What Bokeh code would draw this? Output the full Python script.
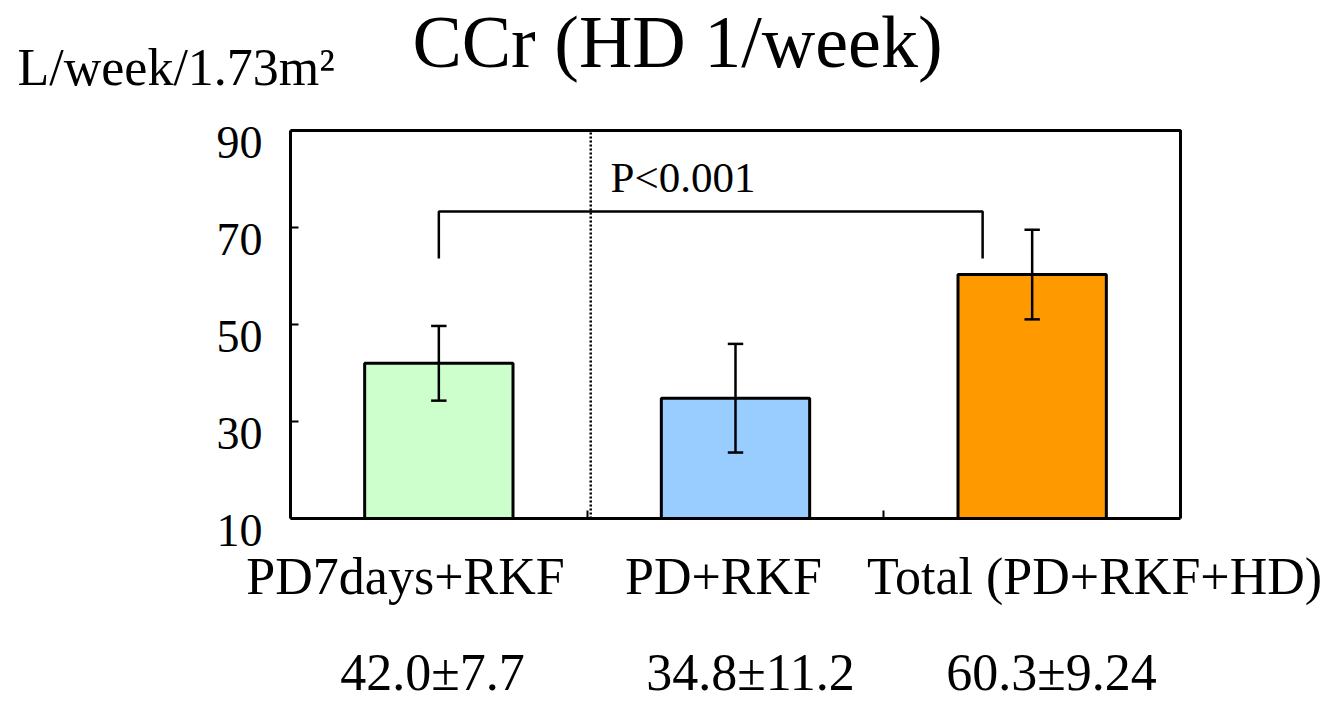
from bokeh.plotting import figure
from bokeh.models import ColumnDataSource, Label, FixedTicker, Range1d, LinearAxis
from bokeh.embed import file_html
from bokeh.resources import INLINE

# ---- data ----
categories = ["PD7days+RKF", "PD+RKF", "Total (PD+RKF+HD)"]
means = [42.0, 34.8, 60.3]
sds = [7.7, 11.2, 9.24]
value_texts = ["42.0\u00b17.7", "34.8\u00b111.2", "60.3\u00b19.24"]
colors = ["#CCFFCC", "#99CCFF", "#FF9900"]
y_ticks = [10, 30, 50, 70, 90]
p_text = "P<0.001"
title_text = "CCr (HD 1/week)"
unit_text = "L/week/1.73m\u00b2"

FONT = "Liberation Serif"

# ---- layout geometry (canvas pixels) ----
W, H = 1334, 704
BOX_L, BOX_R, BOX_T, BOX_B = 290, 1180, 130, 518
Y0, Y1 = y_ticks[0], y_ticks[-1]
NCAT = len(categories)
kx = (BOX_R - BOX_L) / NCAT          # px per x unit
ky = (BOX_B - BOX_T) / (Y1 - Y0)     # px per y unit


def sx(px):
    return (px - BOX_L) / kx


def sy(py):
    return Y0 + (BOX_B - py) / ky


xs = [i + 0.5 for i in range(NCAT)]
src = ColumnDataSource(dict(
    x=xs, top=means, color=colors,
    lo=[m - s for m, s in zip(means, sds)],
    hi=[m + s for m, s in zip(means, sds)],
    cl=[x - 0.026 for x in xs], cr=[x + 0.026 for x in xs],
))

p = figure(width=W, height=H, output_backend="svg", toolbar_location=None,
           x_range=Range1d(sx(0), sx(W)), y_range=Range1d(sy(H), sy(0)),
           x_axis_location=None, y_axis_location=None)
p.min_border = 0
p.min_border_left = p.min_border_right = p.min_border_top = p.min_border_bottom = 0
p.background_fill_color = "white"
p.border_fill_color = "white"
p.outline_line_color = None
p.xgrid.visible = False
p.ygrid.visible = False

# shifted range used only to place the y tick labels like the reference
shift = 12 / ky
p.extra_y_ranges = {"lbl": Range1d(sy(H) + shift, sy(0) + shift)}

# main y axis (line + inward ticks)
yax = LinearAxis(fixed_location=0, bounds=(Y0, Y1), ticker=FixedTicker(ticks=y_ticks),
                 axis_line_width=3, axis_line_color="black",
                 major_tick_in=8, major_tick_out=0, major_tick_line_width=2,
                 major_tick_line_color="black", minor_tick_line_color=None,
                 major_label_text_color=None, major_label_text_font_size="1px")
p.add_layout(yax, "left")

# y tick labels
ylab = LinearAxis(fixed_location=0, y_range_name="lbl", ticker=FixedTicker(ticks=y_ticks),
                  axis_line_color=None, major_tick_line_color=None, minor_tick_line_color=None,
                  major_tick_in=0, major_tick_out=0, major_label_standoff=28,
                  major_label_text_font=FONT, major_label_text_font_size="46px",
                  major_label_text_color="black")
p.add_layout(ylab, "left")

# x axis (line + inward ticks at category boundaries)
xax = LinearAxis(fixed_location=Y0, bounds=(0, NCAT),
                 ticker=FixedTicker(ticks=list(range(1, NCAT))),
                 axis_line_width=3, axis_line_color="black",
                 major_tick_in=8, major_tick_out=0, major_tick_line_width=2,
                 major_tick_line_color="black", minor_tick_line_color=None,
                 major_label_text_color=None, major_label_text_font_size="1px")
p.add_layout(xax, "below")

# top and right sides of the plot box
p.line(x=[0, NCAT, NCAT], y=[Y1, Y1, Y0], line_color="black", line_width=3)

# bars
p.vbar(x="x", top="top", bottom=Y0, width=0.5, source=src,
       fill_color="color", line_color="black", line_width=3)

# error bars
p.segment(x0="x", x1="x", y0="lo", y1="hi", source=src, line_color="black", line_width=2.5)
p.segment(x0="cl", x1="cr", y0="hi", y1="hi", source=src, line_color="black", line_width=2.5)
p.segment(x0="cl", x1="cr", y0="lo", y1="lo", source=src, line_color="black", line_width=2.5)

# dotted separator
p.segment(x0=[1.012], x1=[1.012], y0=[Y0], y1=[Y1], line_color="black",
          line_width=2.5, line_dash="2 2")

# significance bracket
bx0, bx1, btop, bleg = xs[0], 2.333, 73.3, 63.6
p.line(x=[bx0, bx0, bx1, bx1], y=[bleg, btop, btop, bleg], line_color="black", line_width=2.5)

BASE_FIX = 0.36  # rendered baseline sits this many em below the anchor


def add_text(px, py, text, size, align="left"):
    py_anchor = py - BASE_FIX * size
    p.add_layout(Label(x=sx(px), y=sy(py_anchor), text=text, text_font=FONT, text_color="black",
                       text_font_size=f"{size}px", text_align=align,
                       text_baseline="alphabetic"))


add_text(610, 192, p_text, 43)
add_text(677, 68, title_text, 74, "center")
add_text(17, 86, unit_text, 52)

# category and value labels (centres as in the reference)
cat_cx = [405, 723, 1094]
val_cx = [432, 750, 1051]
for c, v, cc, vc in zip(categories, value_texts, cat_cx, val_cx):
    add_text(cc, 595, c, 52, "center")
    add_text(vc, 691, v, 52, "center")

open("out.html", "w").write(file_html(p, INLINE))
